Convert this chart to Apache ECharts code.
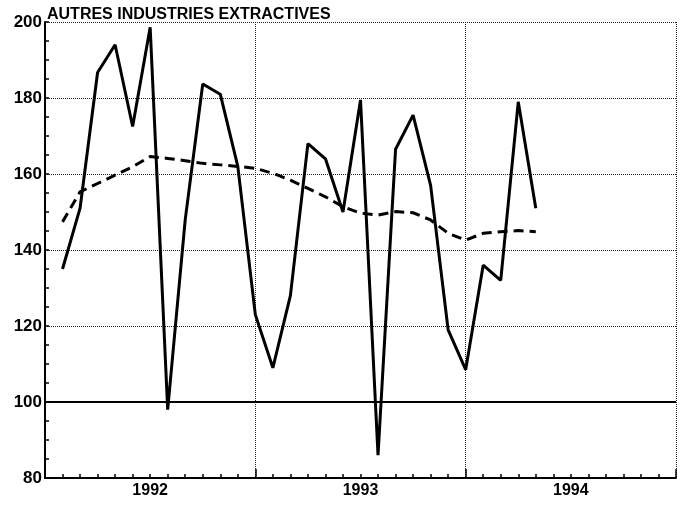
<!DOCTYPE html>
<html>
<head>
<meta charset="utf-8">
<script src="https://cdn.jsdelivr.net/npm/echarts@6/dist/echarts.min.js"></script>
<style>
  html, body { margin: 0; padding: 0; background: #fff; }
  #chart { width: 686px; height: 505px; }
</style>
</head>
<body>
<div id="chart"></div>
<script>
// années affichées sous l'axe
var years = ['1992', '1993', '1994'];

// indice mensuel (série brute), un point par mois à partir du 1er mois
var indice = [135, 151, 186.7, 194, 172.5, 198.6, 98, 148, 183.7, 181, 162, 123,
  109, 128, 168, 164, 150, 179.5, 86, 166.5, 175.5, 157, 119, 108.5,
  136, 132, 179, 151];

// tendance (courbe en tirets)
var tendance = [147.4, 155.3, 157.5, 159.7, 161.9, 164.6, 164.1, 163.5, 162.8, 162.4, 162, 161.5,
  160.2, 158.4, 156.2, 154, 151.4, 149.7, 149.2, 150.1, 149.8, 147.9, 144.4, 142.6,
  144.4, 144.8, 145.1, 144.8];

var myChart = echarts.init(document.getElementById('chart'));

function toPoints(arr) {
  return arr.map(function (v, i) { return [i + 1, v]; });
}

var font = 'Liberation Sans, Arial, sans-serif';
var tickLine = { color: '#000', width: 1.5 };

var option = {
  backgroundColor: '#fff',
  animation: false,
  title: {
    text: 'AUTRES INDUSTRIES EXTRACTIVES',
    left: 42,
    top: 2,
    textStyle: { fontFamily: font, fontWeight: 'bold', fontSize: 16, color: '#000' }
  },
  grid: { left: 45, right: 10, top: 22, bottom: 27 },
  xAxis: [
    // axe principal : séparations annuelles
    {
      type: 'value',
      min: 0,
      max: 36,
      interval: 12,
      position: 'bottom',
      axisLine: { show: true, lineStyle: { color: '#000', width: 2 } },
      axisTick: { show: true, inside: true, length: 9, lineStyle: tickLine },
      axisLabel: { show: false },
      splitLine: { show: true, lineStyle: { color: '#222', type: 'dotted', width: 1 } }
    },
    // étiquettes des années
    {
      type: 'category',
      data: years,
      position: 'bottom',
      boundaryGap: true,
      axisLine: { show: false },
      axisTick: { show: false },
      splitLine: { show: false },
      axisLabel: { margin: 5, fontFamily: font, fontWeight: 'bold', fontSize: 16, color: '#000' }
    },
    // graduations mensuelles
    {
      type: 'value',
      min: 0,
      max: 36,
      interval: 1,
      position: 'bottom',
      axisLine: { show: false },
      axisTick: { show: true, inside: true, length: 4, lineStyle: tickLine },
      axisLabel: { show: false },
      splitLine: { show: false }
    }
  ],
  yAxis: [
    {
      type: 'value',
      min: 80,
      max: 200,
      interval: 20,
      axisLine: { show: true, lineStyle: { color: '#000', width: 2 } },
      axisTick: { show: true, inside: true, length: 4, lineStyle: tickLine },
      axisLabel: { margin: 3, fontFamily: font, fontWeight: 'bold', fontSize: 17, color: '#000' },
      splitLine: { show: true, lineStyle: { color: '#222', type: 'dotted', width: 1 } }
    },
    {
      type: 'value',
      min: 80,
      max: 200,
      interval: 5,
      position: 'left',
      axisLine: { show: false },
      axisTick: { show: true, inside: true, length: 4, lineStyle: tickLine },
      axisLabel: { show: false },
      splitLine: { show: false }
    }
  ],
  series: [
    {
      name: 'indice',
      type: 'line',
      xAxisIndex: 0,
      yAxisIndex: 0,
      data: toPoints(indice),
      showSymbol: false,
      lineStyle: { color: '#000', width: 3 },
      markLine: {
        silent: true,
        symbol: 'none',
        label: { show: false },
        lineStyle: { color: '#000', type: 'solid', width: 2 },
        data: [{ yAxis: 100 }]
      },
      z: 3
    },
    {
      name: 'tendance',
      type: 'line',
      xAxisIndex: 0,
      yAxisIndex: 0,
      data: toPoints(tendance),
      showSymbol: false,
      lineStyle: { color: '#000', width: 3, type: [10, 6] },
      z: 2
    }
  ]
};

myChart.setOption(option);
</script>
</body>
</html>
